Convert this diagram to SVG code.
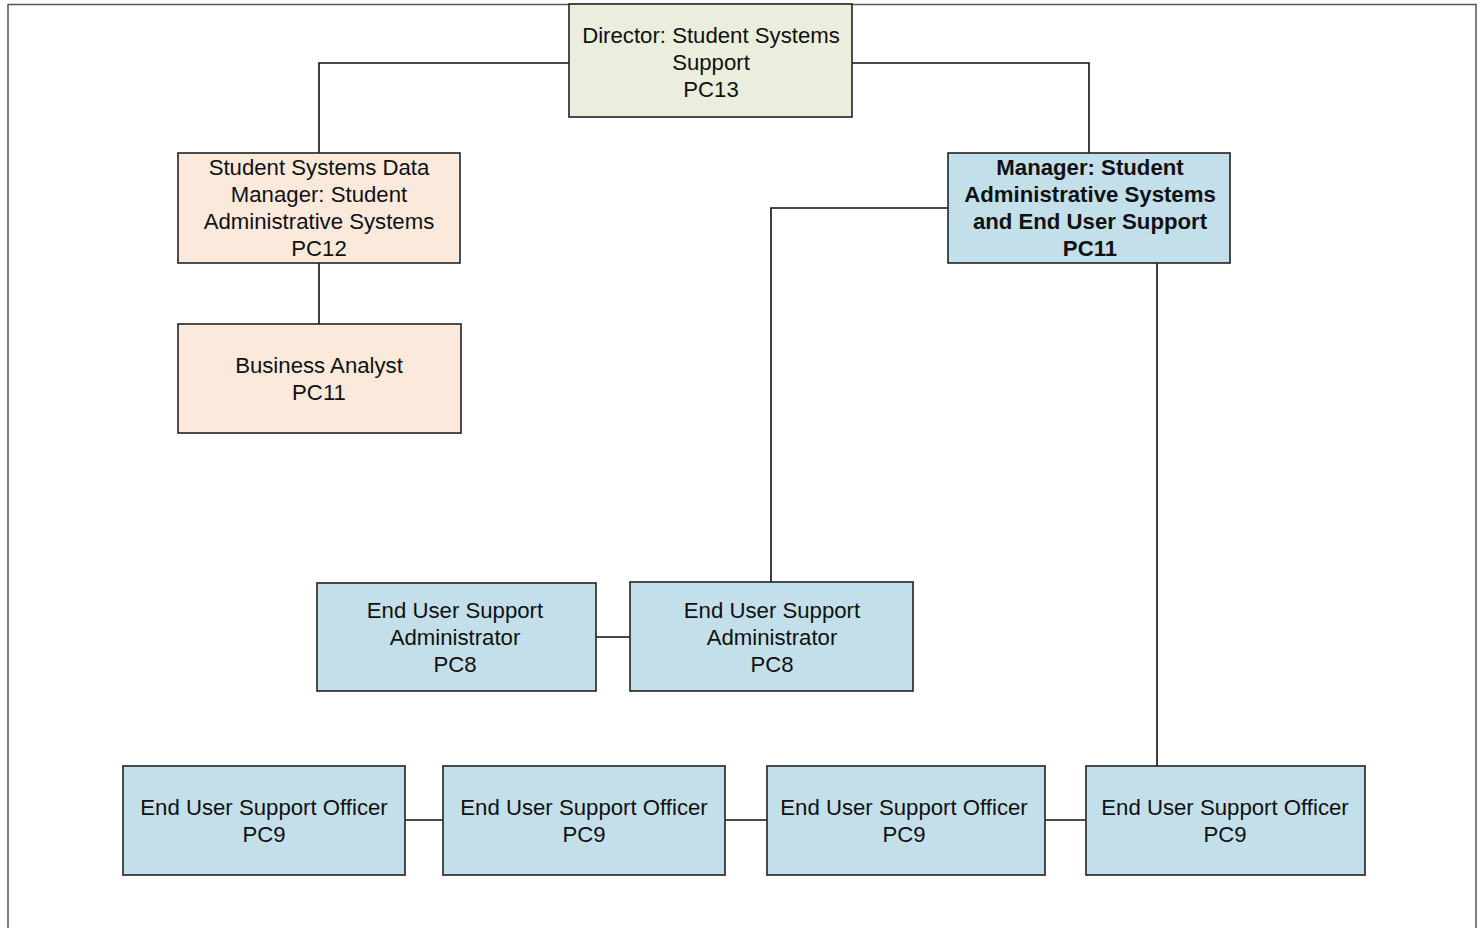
<svg xmlns="http://www.w3.org/2000/svg" width="1484" height="928" viewBox="0 0 1484 928">
<style>
.box{stroke:#222;stroke-width:1.6}
.g{fill:#ebeedd}
.o{fill:#fbeadc}
.b{fill:#c3e0ea}
.t{font-family:"Liberation Sans",Arial,sans-serif;font-size:22.2px;fill:#111;text-anchor:middle}
.bold{font-weight:bold}
.c{fill:none;stroke:#111;stroke-width:1.6}
</style>
<rect width="1484" height="928" fill="#fff"/>
<rect x="8" y="4.5" width="1468" height="940" fill="none" stroke="#555" stroke-width="1.5"/>
<g id="connectors">
<path class="c" d="M569 63H319V153"/>
<path class="c" d="M852 63H1089V153"/>
<path class="c" d="M319 263V324"/>
<path class="c" d="M948 208H771V582"/>
<path class="c" d="M1157 263V766"/>
<path class="c" d="M596 637H630"/>
<path class="c" d="M405 820H443"/>
<path class="c" d="M725 820H767"/>
<path class="c" d="M1045 820H1086"/>
</g>
<g id="director">
<rect class="box g" x="569" y="4" width="283" height="113"/>
<text class="t" x="711" y="43">Director: Student Systems</text>
<text class="t" x="711" y="70">Support</text>
<text class="t" x="711" y="97">PC13</text>
</g>
<g id="ssdm">
<rect class="box o" x="178" y="153" width="282" height="110"/>
<text class="t" x="319" y="175">Student Systems Data</text>
<text class="t" x="319" y="202">Manager: Student</text>
<text class="t" x="319" y="229">Administrative Systems</text>
<text class="t" x="319" y="256">PC12</text>
</g>
<g id="ba">
<rect class="box o" x="178" y="324" width="283" height="109"/>
<text class="t" x="319" y="373">Business Analyst</text>
<text class="t" x="319" y="400">PC11</text>
</g>
<g id="manager">
<rect class="box b" x="948" y="153" width="282" height="110"/>
<text class="t bold" x="1090" y="175">Manager: Student</text>
<text class="t bold" x="1090" y="202">Administrative Systems</text>
<text class="t bold" x="1090" y="229">and End User Support</text>
<text class="t bold" x="1090" y="256">PC11</text>
</g>
<g id="admin1">
<rect class="box b" x="317" y="583" width="279" height="108"/>
<text class="t" x="455" y="618">End User Support</text>
<text class="t" x="455" y="645">Administrator</text>
<text class="t" x="455" y="672">PC8</text>
</g>
<g id="admin2">
<rect class="box b" x="630" y="582" width="283" height="109"/>
<text class="t" x="772" y="618">End User Support</text>
<text class="t" x="772" y="645">Administrator</text>
<text class="t" x="772" y="672">PC8</text>
</g>
<g id="officer1">
<rect class="box b" x="123" y="766" width="282" height="109"/>
<text class="t" x="264" y="815">End User Support Officer</text>
<text class="t" x="264" y="842">PC9</text>
</g>
<g id="officer2">
<rect class="box b" x="443" y="766" width="282" height="109"/>
<text class="t" x="584" y="815">End User Support Officer</text>
<text class="t" x="584" y="842">PC9</text>
</g>
<g id="officer3">
<rect class="box b" x="767" y="766" width="278" height="109"/>
<text class="t" x="904" y="815">End User Support Officer</text>
<text class="t" x="904" y="842">PC9</text>
</g>
<g id="officer4">
<rect class="box b" x="1086" y="766" width="279" height="109"/>
<text class="t" x="1225" y="815">End User Support Officer</text>
<text class="t" x="1225" y="842">PC9</text>
</g>
</svg>
